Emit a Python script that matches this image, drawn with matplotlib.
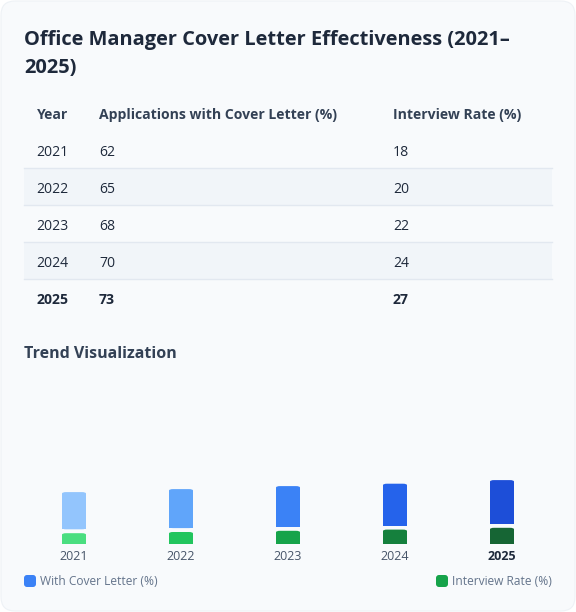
import matplotlib
matplotlib.use('Agg')
import matplotlib.pyplot as plt
from matplotlib.patches import FancyBboxPatch, Rectangle

plt.rcParams['font.family'] = ['Open Sans', 'DejaVu Sans']

### data

years = ['2021', '2022', '2023', '2024', '2025']
with_letter = [62, 65, 68, 70, 73]
interview_rate = [18, 20, 22, 24, 27]
table_header = ['Year', 'Applications with Cover Letter (%)', 'Interview Rate (%)']

blue_shades = ['#93c5fd', '#60a5fa', '#3b82f6', '#2563eb', '#1d4ed8']
green_shades = ['#4ade80', '#22c55e', '#16a34a', '#15803d', '#166534']

W, H = 576, 612
PX = 0.72  # px -> pt at dpi 100

### canvas

fig = plt.figure(figsize=(W / 100, H / 100), dpi=100)
fig.patch.set_facecolor('white')
base = fig.add_axes([0, 0, 1, 1])
base.set_xlim(0, W)
base.set_ylim(H, 0)
base.axis('off')

# card
base.add_patch(FancyBboxPatch((1, 1), W - 2, H - 2, boxstyle='round,pad=0,rounding_size=14',
                              fc='#f8fafc', ec='#eef2f6', lw=0.8))

# title
base.text(24, 45, 'Office Manager Cover Letter Effectiveness (2021–', fontsize=20 * PX,
          fontweight='bold', color='#1e293b', va='baseline')
base.text(24, 73, '2025)', fontsize=20 * PX, fontweight='bold', color='#1e293b', va='baseline')

### table

col_x = [36.5, 99, 393]
row_h = 37
first_row = 131.3

# striped rows + separators
for i in range(len(years)):
	top = first_row + i * row_h
	if i % 2 == 1:
		base.add_patch(Rectangle((24, top), 528, row_h, fc='#f1f5f9', ec='none'))
	if i > 0:
		base.plot([24, 552], [top, top], color='#e2e8f0', lw=1)

for x, label in zip(col_x, table_header):
	base.text(x, 119.3, label, fontsize=14 * PX, fontweight='bold', color='#334155', va='baseline')

for i, (yr, a, b) in enumerate(zip(years, with_letter, interview_rate)):
	y = 155.7 + i * row_h
	last = i == len(years) - 1
	for x, val in zip(col_x, [yr, a, b]):
		base.text(x, y, str(val), fontsize=14 * PX, color='#1e293b', va='baseline',
		          fontweight='bold' if last else 'normal')

base.text(24, 357.7, 'Trend Visualization', fontsize=16 * PX, fontweight='bold',
          color='#334155', va='baseline')

### bars

SCALE = 0.6   # px per percentage point
GAP = 6.5     # units between stacked segments
ax_left, ax_right, ax_bottom, ax_top = 20.5, 555.5, 544, 376
ax = fig.add_axes([ax_left / W, 1 - ax_bottom / H, (ax_right - ax_left) / W, (ax_bottom - ax_top) / H])
ax.set_xlim(-0.5, len(years) - 0.5)
ax.set_ylim(0, (ax_bottom - ax_top) / SCALE)
ax.axis('off')

bar_w = 24 / 107
xs = list(range(len(years)))
green_bars = ax.bar(xs, interview_rate, width=bar_w, color=green_shades)
blue_bottoms = [v + GAP for v in interview_rate]
blue_bars = ax.bar(xs, with_letter, width=bar_w, bottom=blue_bottoms, color=blue_shades)

# round the top corners: swap each rectangle for a rounded box + square base
px_per_x = (ax_right - ax_left) / len(years)
radius = 4 / px_per_x
aspect = px_per_x / (1 / SCALE)
for bar in list(green_bars) + list(blue_bars):
	x0, y0 = bar.get_xy()
	w, h = bar.get_width(), bar.get_height()
	fc = bar.get_facecolor()
	bar.set_visible(False)
	ax.add_patch(FancyBboxPatch((x0, y0), w, h, boxstyle=f'round,pad=0,rounding_size={radius}',
	                            mutation_aspect=aspect, fc=fc, ec='none'))
	ax.add_patch(Rectangle((x0, y0), w, h / 2, fc=fc, ec='none'))

for i, yr in enumerate(years):
	last = i == len(years) - 1
	ax.text(i, -12 / SCALE, yr, ha='center', va='center', fontsize=12.5 * PX,
	        fontweight='bold' if last else 'normal', color='#1e293b' if last else '#475569',
	        clip_on=False)

### legend

base.add_patch(FancyBboxPatch((24, 575), 12, 12, boxstyle='round,pad=0,rounding_size=3',
                              fc='#3b82f6', ec='none'))
base.text(40, 581.5, 'With Cover Letter (%)', fontsize=12 * PX, color='#64748b', va='center')
base.add_patch(FancyBboxPatch((436, 575), 12, 12, boxstyle='round,pad=0,rounding_size=3',
                              fc='#16a34a', ec='none'))
base.text(552, 581.5, 'Interview Rate (%)', fontsize=12 * PX, color='#64748b', va='center', ha='right')

fig.savefig('out.png', dpi=100)
